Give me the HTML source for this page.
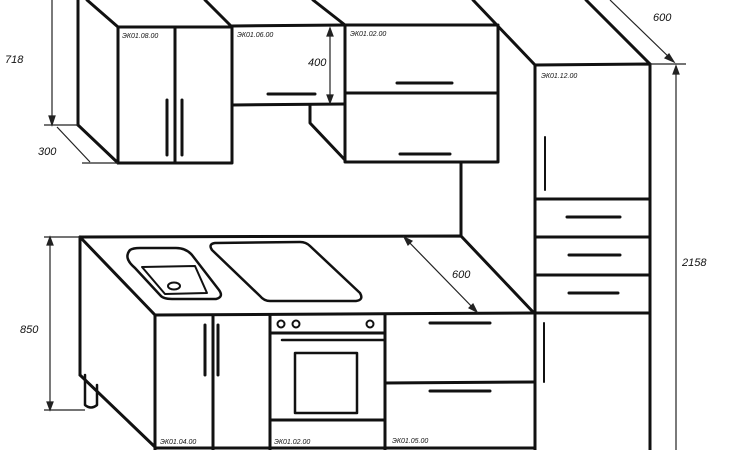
<!DOCTYPE html>
<html><head><style>body{margin:0;background:#fff}svg{display:block}text{font-family:"Liberation Sans",sans-serif;font-style:italic;fill:#111}</style></head><body>
<svg width="732" height="450" viewBox="0 0 732 450" xmlns="http://www.w3.org/2000/svg">
<g stroke="#111" stroke-width="3" fill="none" stroke-linecap="round" stroke-linejoin="round">
<!-- upper left cabinet -->
<rect x="118" y="27" width="114" height="136"/>
<line x1="175" y1="27" x2="175" y2="163"/>
<line x1="78" y1="0" x2="78" y2="125"/>
<line x1="78" y1="125" x2="118" y2="163"/>
<line x1="87" y1="0" x2="118" y2="27"/>
<line x1="205" y1="0" x2="232" y2="27"/>
<line x1="167" y1="100" x2="167" y2="155"/>
<line x1="182" y1="100" x2="182" y2="155"/>
<!-- hood -->
<line x1="232" y1="26" x2="345" y2="25"/>
<line x1="232" y1="105" x2="345" y2="104"/>
<line x1="268" y1="94" x2="315" y2="94"/>
<polyline points="310,105 310,123 345,160"/>
<!-- right upper -->
<rect x="345" y="25" width="153" height="137"/>
<line x1="345" y1="93" x2="498" y2="93"/>
<line x1="397" y1="83" x2="452" y2="83"/>
<line x1="400" y1="154" x2="450" y2="154"/>
<line x1="313" y1="0" x2="345" y2="25"/>
<line x1="473" y1="0" x2="535" y2="65"/>
<line x1="461" y1="162" x2="461" y2="236"/>
<!-- tall cabinet -->
<polyline points="535,450 535,65 650,64 650,450"/>
<line x1="586" y1="0" x2="650" y2="64"/>
<line x1="535" y1="199" x2="650" y2="199"/>
<line x1="535" y1="237" x2="650" y2="237"/>
<line x1="535" y1="275" x2="650" y2="275"/>
<line x1="535" y1="313" x2="650" y2="313"/>
<line x1="567" y1="217" x2="620" y2="217"/>
<line x1="569" y1="255" x2="620" y2="255"/>
<line x1="569" y1="293" x2="618" y2="293"/>
<line x1="545" y1="137" x2="545" y2="190" stroke-width="2"/>
<line x1="544" y1="323" x2="544" y2="382" stroke-width="2"/>
<!-- counter -->
<polyline points="80,375 80,237 461,236 534,313"/>
<line x1="80" y1="237" x2="155" y2="315"/>
<line x1="155" y1="315" x2="535" y2="313"/>
<line x1="80" y1="375" x2="155" y2="447"/>
<line x1="155" y1="315" x2="155" y2="450"/>
<line x1="213" y1="315" x2="213" y2="450"/>
<line x1="270" y1="315" x2="270" y2="450"/>
<line x1="385" y1="314" x2="385" y2="450"/>
<line x1="205" y1="325" x2="205" y2="375"/>
<line x1="218" y1="325" x2="218" y2="375"/>
<line x1="155" y1="448" x2="535" y2="448"/>
<path d="M85,375 L85,405 Q91,410 97,405 L97,385" stroke-width="2.5"/>
<!-- oven -->
<line x1="270" y1="333" x2="385" y2="333"/>
<line x1="282" y1="340" x2="385" y2="340" stroke-width="2.5"/>
<rect x="295" y="353" width="62" height="60" stroke-width="2.5"/>
<line x1="270" y1="420" x2="385" y2="420"/>
<circle cx="281" cy="324" r="3.5" stroke-width="2"/>
<circle cx="296" cy="324" r="3.5" stroke-width="2"/>
<circle cx="370" cy="324" r="3.5" stroke-width="2"/>
<!-- drawers -->
<line x1="385" y1="383" x2="535" y2="382"/>
<line x1="430" y1="323" x2="490" y2="323"/>
<line x1="430" y1="391" x2="490" y2="391"/>
<!-- sink -->
<path d="M130,250 Q123,258 135,268 L160,295 Q163,299 172,299 L216,299 Q224,297 219,290 L192,255 Q186,248 176,248 L140,248 Q133,248 130,250Z" stroke-width="2.5"/>
<path d="M142,267 L195,266 L207,293 L165,294 Z" stroke-width="2"/>
<ellipse cx="174" cy="286" rx="6" ry="3.5" stroke-width="2"/>
<!-- hob -->
<path d="M215,243 L300,242 Q306,242 310,246 L360,293 Q364,300 356,301 L270,301 Q264,301 260,296 L212,250 Q208,244 215,243Z" stroke-width="2.5"/>
</g>
<g stroke="#222" stroke-width="1.2" fill="#222">
<line x1="52" y1="0" x2="52" y2="125"/><line x1="44" y1="125" x2="78" y2="125"/>
<polygon points="52,125 49,116 55,116"/>
<line x1="57" y1="127" x2="90" y2="162"/><line x1="82" y1="163" x2="118" y2="163"/>
<line x1="330" y1="28" x2="330" y2="103"/>
<polygon points="330,28 327,36 333,36"/><polygon points="330,103 327,95 333,95"/>
<line x1="610" y1="0" x2="674" y2="62"/><polygon points="674,62 665,58 669,54"/>
<line x1="650" y1="64" x2="686" y2="64"/>
<line x1="676" y1="66" x2="676" y2="450"/><polygon points="676,66 673,74 679,74"/>
<line x1="404" y1="237" x2="477" y2="312"/>
<polygon points="404,237 412,241 408,245"/><polygon points="477,312 469,308 473,304"/>
<line x1="50" y1="237" x2="50" y2="410"/><line x1="44" y1="237" x2="80" y2="237"/><line x1="44" y1="410" x2="85" y2="410"/>
<polygon points="50,237 47,245 53,245"/><polygon points="50,410 47,402 53,402"/>
</g>
<g font-size="11">
<text x="5" y="63">718</text>
<text x="38" y="155">300</text>
<text x="308" y="66">400</text>
<text x="653" y="21">600</text>
<text x="452" y="278">600</text>
<text x="20" y="333">850</text>
<text x="682" y="266">2158</text>
</g>
<g font-size="7">
<text x="122" y="38">ЭК01.08.00</text>
<text x="237" y="37">ЭК01.06.00</text>
<text x="350" y="36">ЭК01.02.00</text>
<text x="541" y="78">ЭК01.12.00</text>
<text x="160" y="444">ЭК01.04.00</text>
<text x="274" y="444">ЭК01.02.00</text>
<text x="392" y="443">ЭК01.05.00</text>
</g>
</svg>
</body></html>
